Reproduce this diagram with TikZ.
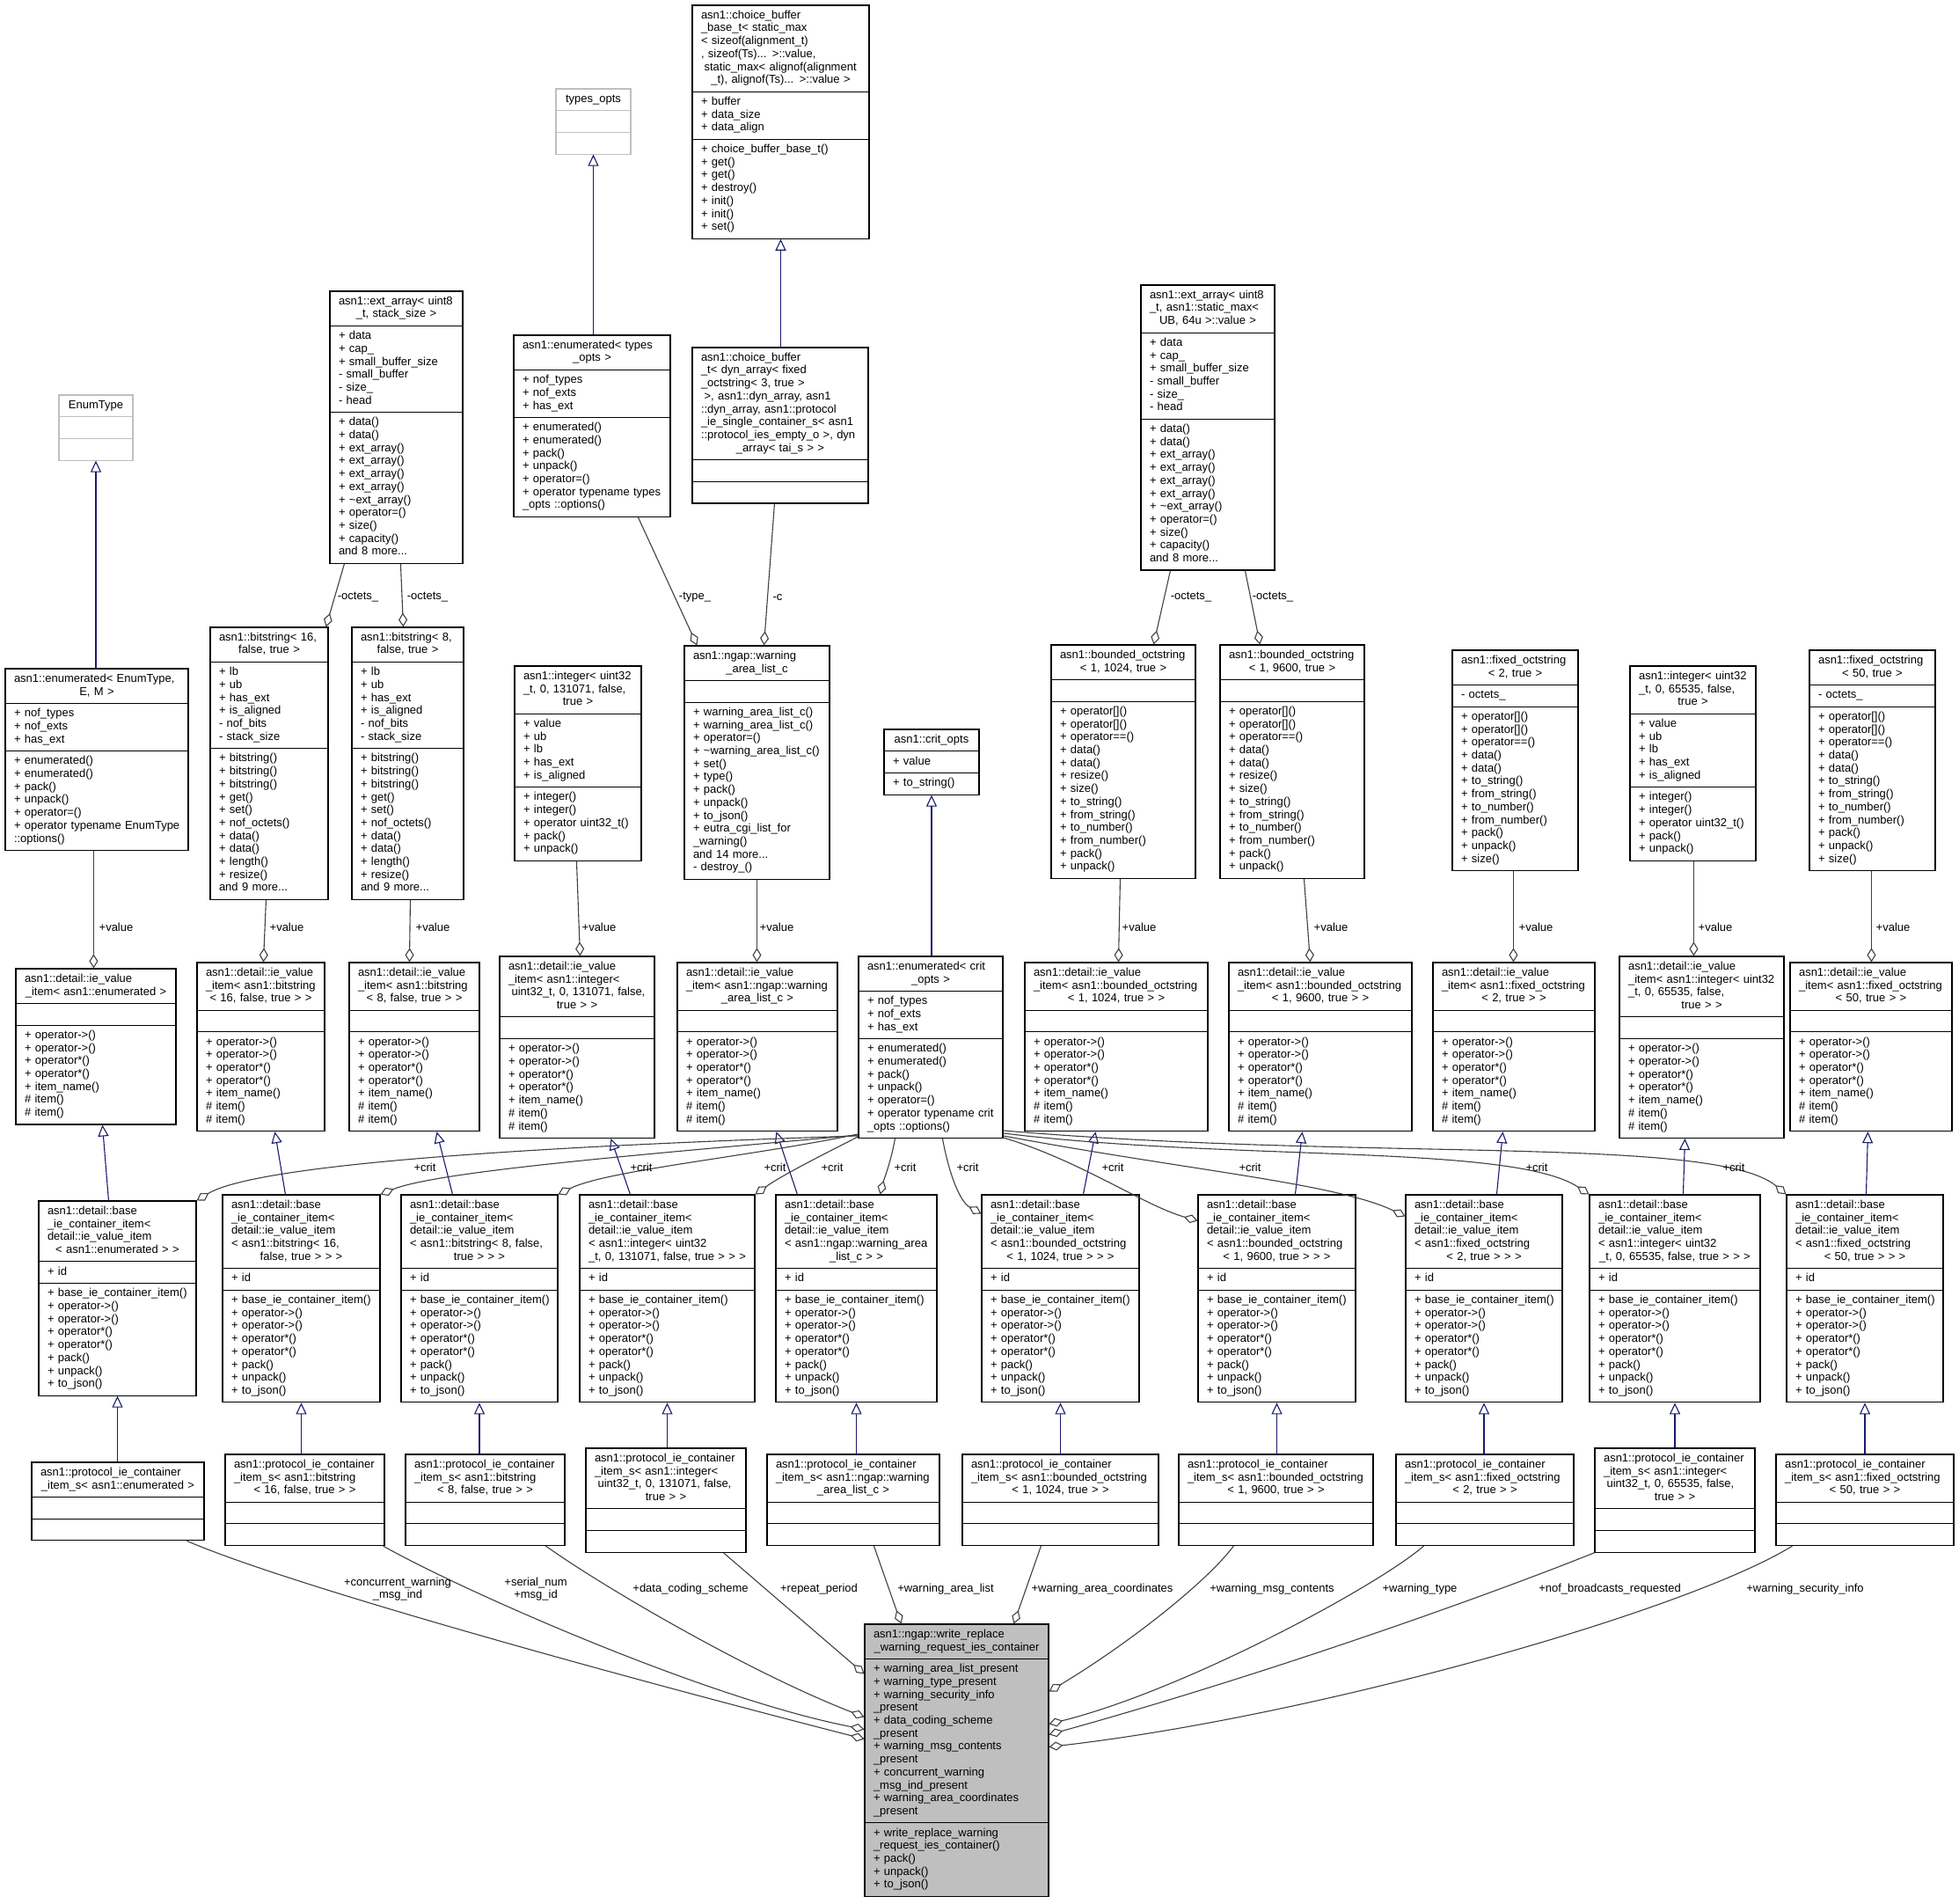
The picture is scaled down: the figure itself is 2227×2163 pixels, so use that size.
\documentclass[tikz,border=0pt]{standalone}
\usepackage{fontspec}
\setmainfont{Liberation Sans}
\usetikzlibrary{arrows.meta,fit,backgrounds}
\definecolor{navy}{HTML}{191970}
\definecolor{edgec}{HTML}{404040}
\definecolor{gbox}{HTML}{BFBFBF}
\newcommand\boxfont{\fontsize{13}{14.7}\selectfont}
\newcommand\dxl[1]{\hspace*{40pt}#1\hfill\null\\}
\newcommand\ldsp{\hspace*{3.6pt}}
% shared member lists
\newcommand\aEN{+ nof\_types\\+ nof\_exts\\+ has\_ext}
\newcommand\mEN[1]{+ enumerated()\\+ enumerated()\\+ pack()\\+ unpack()\\+ operator=()\\#1}
\newcommand\aEA{+ data\\+ cap\_\\+ small\_buffer\_size\\- small\_buffer\\- size\_\\- head}
\newcommand\mEA{+ data()\\+ data()\\+ ext\_array()\\+ ext\_array()\\+ ext\_array()\\+ ext\_array()\\+ \textasciitilde ext\_array()\\+ operator=()\\+ size()\\+ capacity()\\and 8 more...}
\newcommand\aBS{+ lb\\+ ub\\+ has\_ext\\+ is\_aligned\\- nof\_bits\\- stack\_size}
\newcommand\mBS{+ bitstring()\\+ bitstring()\\+ bitstring()\\+ get()\\+ set()\\+ nof\_octets()\\+ data()\\+ data()\\+ length()\\+ resize()\\and 9 more...}
\newcommand\aIN{+ value\\+ ub\\+ lb\\+ has\_ext\\+ is\_aligned}
\newcommand\mIN{+ integer()\\+ integer()\\+ operator uint32\_t()\\+ pack()\\+ unpack()}
\newcommand\mBO{+ operator[]()\\+ operator[]()\\+ operator==()\\+ data()\\+ data()\\+ resize()\\+ size()\\+ to\_string()\\+ from\_string()\\+ to\_number()\\+ from\_number()\\+ pack()\\+ unpack()}
\newcommand\mFO{+ operator[]()\\+ operator[]()\\+ operator==()\\+ data()\\+ data()\\+ to\_string()\\+ from\_string()\\+ to\_number()\\+ from\_number()\\+ pack()\\+ unpack()\\+ size()}
\newcommand\mIV{+ operator->()\\+ operator->()\\+ operator*()\\+ operator*()\\+ item\_name()\\\# item()\\\# item()}
\newcommand\mBC{+ base\_ie\_container\_item()\\+ operator->()\\+ operator->()\\+ operator*()\\+ operator*()\\+ pack()\\+ unpack()\\+ to\_json()}
\newcommand\bH{\dxl{asn1::detail::base}\dxl{\_ie\_container\_item<}\dxl{detail::ie\_value\_item}}
\newcommand\vH{\dxl{asn1::detail::ie\_value}}
\newcommand\pcH{\dxl{asn1::protocol\_ie\_container}}
\tikzset{
  sectbox/.style={inner xsep=0pt, inner ysep=5pt, outer sep=0pt, font=\boxfont,
    execute at begin node=\strut, execute at end node=\strut},
  hdsec/.style={sectbox, align=center, execute at begin node={\leftskip=-30pt plus 1fil\rightskip=-30pt plus 1fil\relax}},
  bdsec/.style={sectbox, align=left, execute at begin node={\leftskip=10pt\rightskip=-50pt plus 1fil\relax}},
  inhedge/.style={draw=navy, line width=1.1pt, {Triangle[open,length=13pt,width=12pt]}-},
  compedge/.style={draw=edgec, line width=1.1pt, -{Diamond[open,length=16pt,width=10pt]}},
  edgelbl/.style={font=\boxfont, inner sep=0pt, align=center, text=black},
}
% #1 border style, #2 name, #3 left x, #4 top y, #5 width, #6 header, #7 attributes, #8 methods
\newcommand\umlc[8][draw=black]{%
  \node[hdsec, text width=#5pt, anchor=north west] (#2-h) at (#3,#4) {#6};
  \node[bdsec, text width=#5pt, anchor=north] (#2-a) at (#2-h.south) {#7};
  \node[bdsec, text width=#5pt, anchor=north] (#2-m) at (#2-a.south) {#8};
  \node[fit=(#2-h)(#2-m), inner sep=0pt, #1, line width=1.1pt] (#2) {};
  \draw[#1, line width=1.1pt] (#2-a.north west) -- (#2-a.north east) (#2-m.north west) -- (#2-m.north east);
}
\begin{document}
\begin{tikzpicture}[x=1pt,y=-1pt]
\useasboundingbox (0,0) rectangle (2227,2163);
\begin{scope}[on background layer]\fill[white] (0,0) rectangle (2227,2163);\end{scope}

% ---------- top rows ----------
\umlc{cbb}{787}{6}{201}{\dxl{asn1::choice\_buffer}\dxl{\_base\_t< static\_max}\dxl{< sizeof(alignment\_t)}\dxl{, sizeof(Ts)... >::value,}\dxl{\ldsp static\_max< alignof(alignment}\_t), alignof(Ts)... >::value >}{+ buffer\\+ data\_size\\+ data\_align}{+ choice\_buffer\_base\_t()\\+ get()\\+ get()\\+ destroy()\\+ init()\\+ init()\\+ set()}
\umlc[draw=gbox]{topts}{632}{101}{85}{types\_opts}{}{}
\umlc{cbt}{787}{395}{200}{\dxl{asn1::choice\_buffer}\dxl{\_t< dyn\_array< fixed}\dxl{\_octstring< 3, true >}\dxl{\ldsp >, asn1::dyn\_array, asn1}\dxl{::dyn\_array, asn1::protocol}\dxl{\_ie\_single\_container\_s< asn1}\dxl{::protocol\_ies\_empty\_o >, dyn}\_array< tai\_s > >}{}{}
\umlc{ets}{584}{381}{178}{\dxl{asn1::enumerated< types}\_opts >}{\aEN}{\mEN{+ operator typename types\\\_opts ::options()}}
\umlc{eas}{375}{331}{151}{\dxl{asn1::ext\_array< uint8}\_t, stack\_size >}{\aEA}{\mEA}
\umlc{eam}{1297}{324}{152}{\dxl{asn1::ext\_array< uint8}\dxl{\_t, asn1::static\_max<}UB, 64u >::value >}{\aEA}{\mEA}
\umlc[draw=gbox]{enumt}{67}{449}{84}{EnumType}{}{}
\umlc{eet}{6}{760}{208}{\dxl{asn1::enumerated< EnumType,}E, M >}{\aEN}{\mEN{+ operator typename EnumType\\::options()}}
\umlc{bs16}{239}{713}{134}{\dxl{asn1::bitstring< 16,}false, true >}{\aBS}{\mBS}
\umlc{bs8}{400}{713}{127}{\dxl{asn1::bitstring< 8,}false, true >}{\aBS}{\mBS}
\umlc{ia}{585}{757}{144}{\dxl{asn1::integer< uint32}\dxl{\_t, 0, 131071, false,}true >}{\aIN}{\mIN}
\umlc{wal}{778}{734}{165}{\dxl{asn1::ngap::warning}\_area\_list\_c}{}{+ warning\_area\_list\_c()\\+ warning\_area\_list\_c()\\+ operator=()\\+ \textasciitilde warning\_area\_list\_c()\\+ set()\\+ type()\\+ pack()\\+ unpack()\\+ to\_json()\\+ eutra\_cgi\_list\_for\\\_warning()\\and 14 more...\\- destroy\_()}
\umlc{copts}{1005}{829}{108}{asn1::crit\_opts}{+ value}{+ to\_string()}
\umlc{bo1}{1195}{733}{164}{\dxl{asn1::bounded\_octstring}< 1, 1024, true >}{}{\mBO}
\umlc{bo2}{1387}{733}{164}{\dxl{asn1::bounded\_octstring}< 1, 9600, true >}{}{\mBO}
\umlc{fa}{1651}{739}{143}{\dxl{asn1::fixed\_octstring}< 2, true >}{- octets\_}{\mFO}
\umlc{ib}{1853}{757}{143}{\dxl{asn1::integer< uint32}\dxl{\_t, 0, 65535, false,}true >}{\aIN}{\mIN}
\umlc{fb}{2057}{739}{143}{\dxl{asn1::fixed\_octstring}< 50, true >}{- octets\_}{\mFO}

% ---------- ie_value_item row ----------
\umlc{vA}{18}{1101}{182}{\vH\_item< asn1::enumerated >}{}{\mIV}
\umlc{vB}{224}{1094}{145}{\vH\dxl{\_item< asn1::bitstring}< 16, false, true > >}{}{\mIV}
\umlc{vC}{397}{1094}{148}{\vH\dxl{\_item< asn1::bitstring}< 8, false, true > >}{}{\mIV}
\umlc{vD}{568}{1087}{176}{\vH\dxl{\_item< asn1::integer<}\dxl{\ldsp uint32\_t, 0, 131071, false,}true > >}{}{\mIV}
\umlc{vE}{770}{1094}{182}{\vH\dxl{\_item< asn1::ngap::warning}\_area\_list\_c >}{}{\mIV}
\umlc{ecrit}{976}{1087}{164}{\dxl{asn1::enumerated< crit}\_opts >}{\aEN}{\mEN{+ operator typename crit\\\_opts ::options()}}
\umlc{vF}{1165}{1094}{208}{\vH\dxl{\_item< asn1::bounded\_octstring}< 1, 1024, true > >}{}{\mIV}
\umlc{vG}{1397}{1094}{208}{\vH\dxl{\_item< asn1::bounded\_octstring}< 1, 9600, true > >}{}{\mIV}
\umlc{vH}{1629}{1094}{184}{\vH\dxl{\_item< asn1::fixed\_octstring}< 2, true > >}{}{\mIV}
\umlc{vI}{1841}{1087}{187}{\vH\dxl{\_item< asn1::integer< uint32}\dxl{\_t, 0, 65535, false,}true > >}{}{\mIV}
\umlc{vJ}{2035}{1094}{184}{\vH\dxl{\_item< asn1::fixed\_octstring}< 50, true > >}{}{\mIV}

% ---------- base_ie_container_item row ----------
\umlc{cA}{44}{1365}{179}{\bH< asn1::enumerated > >}{+ id}{\mBC}
\umlc{cB}{253}{1358}{179}{\bH\dxl{< asn1::bitstring< 16,}false, true > > >}{+ id}{\mBC}
\umlc{cC}{456}{1358}{178}{\bH\dxl{< asn1::bitstring< 8, false,}true > > >}{+ id}{\mBC}
\umlc{cD}{659}{1358}{199}{\bH\dxl{< asn1::integer< uint32}\_t, 0, 131071, false, true > > >}{+ id}{\mBC}
\umlc{cE}{882}{1358}{183}{\bH\dxl{< asn1::ngap::warning\_area}\_list\_c > >}{+ id}{\mBC}
\umlc{cF}{1116}{1358}{179}{\bH\dxl{< asn1::bounded\_octstring}< 1, 1024, true > > >}{+ id}{\mBC}
\umlc{cG}{1362}{1358}{179}{\bH\dxl{< asn1::bounded\_octstring}< 1, 9600, true > > >}{+ id}{\mBC}
\umlc{cH}{1598}{1358}{178}{\bH\dxl{< asn1::fixed\_octstring}< 2, true > > >}{+ id}{\mBC}
\umlc{cI}{1807}{1358}{194}{\bH\dxl{< asn1::integer< uint32}\_t, 0, 65535, false, true > > >}{+ id}{\mBC}
\umlc{cJ}{2031}{1358}{178}{\bH\dxl{< asn1::fixed\_octstring}< 50, true > > >}{+ id}{\mBC}

% ---------- protocol_ie_container_item_s row ----------
\umlc{pA}{36}{1662}{196}{\pcH\_item\_s< asn1::enumerated >}{}{}
\umlc{pB}{256}{1653}{181}{\pcH\dxl{\_item\_s< asn1::bitstring}< 16, false, true > >}{}{}
\umlc{pC}{461}{1653}{181}{\pcH\dxl{\_item\_s< asn1::bitstring}< 8, false, true > >}{}{}
\umlc{pD}{666}{1646}{182}{\pcH\dxl{\_item\_s< asn1::integer<}\dxl{\ldsp uint32\_t, 0, 131071, false,}true > >}{}{}
\umlc{pE}{872}{1653}{196}{\pcH\dxl{\_item\_s< asn1::ngap::warning}\_area\_list\_c >}{}{}
\umlc{pF}{1094}{1653}{223}{\pcH\dxl{\_item\_s< asn1::bounded\_octstring}< 1, 1024, true > >}{}{}
\umlc{pG}{1340}{1653}{221}{\pcH\dxl{\_item\_s< asn1::bounded\_octstring}< 1, 9600, true > >}{}{}
\umlc{pH}{1587}{1653}{202}{\pcH\dxl{\_item\_s< asn1::fixed\_octstring}< 2, true > >}{}{}
\umlc{pI}{1813}{1646}{182}{\pcH\dxl{\_item\_s< asn1::integer<}\dxl{\ldsp uint32\_t, 0, 65535, false,}true > >}{}{}
\umlc{pJ}{2019}{1653}{202}{\pcH\dxl{\_item\_s< asn1::fixed\_octstring}< 50, true > >}{}{}

% ---------- main class ----------
\umlc{main}{983}{1846}{209}{\dxl{asn1::ngap::write\_replace}\_warning\_request\_ies\_container}{+ warning\_area\_list\_present\\+ warning\_type\_present\\+ warning\_security\_info\\\_present\\+ data\_coding\_scheme\\\_present\\+ warning\_msg\_contents\\\_present\\+ concurrent\_warning\\\_msg\_ind\_present\\+ warning\_area\_coordinates\\\_present}{+ write\_replace\_warning\\\_request\_ies\_container()\\+ pack()\\+ unpack()\\+ to\_json()}
\begin{scope}[on background layer]\fill[gbox] (main.south west) rectangle (main.north east);\end{scope}

% ---------- inheritance ----------
\draw[inhedge] (topts.south) -- (topts.south |- ets.north);
\draw[inhedge] (cbb.south) -- (cbb.south |- cbt.north);
\draw[inhedge] (enumt.south) -- (enumt.south |- eet.north);
\draw[inhedge] (copts.south) -- (copts.south |- ecrit.north);
\draw[inhedge] ([xshift=99pt]vA.south west) -- ([xshift=80pt]cA.north west);
\draw[inhedge] ([xshift=89pt]vB.south west) -- ([xshift=72pt]cB.north west);
\draw[inhedge] ([xshift=100pt]vC.south west) -- ([xshift=59pt]cC.north west);
\draw[inhedge] ([xshift=127pt]vD.south west) -- ([xshift=58pt]cD.north west);
\draw[inhedge] ([xshift=113pt]vE.south west) -- ([xshift=25pt]cE.north west);
\draw[inhedge] ([xshift=81pt]vF.south west) -- ([xshift=116pt]cF.north west);
\draw[inhedge] ([xshift=84pt]vG.south west) -- ([xshift=111pt]cG.north west);
\draw[inhedge] ([xshift=80pt]vH.south west) -- ([xshift=104pt]cH.north west);
\draw[inhedge] ([xshift=75pt]vI.south west) -- ([xshift=107pt]cI.north west);
\draw[inhedge] ([xshift=89pt]vJ.south west) -- ([xshift=91pt]cJ.north west);
\draw[inhedge] (cA.south) -- (cA.south |- pA.north);
\draw[inhedge] (cB.south) -- (cB.south |- pB.north);
\draw[inhedge] (cC.south) -- (cC.south |- pC.north);
\draw[inhedge] (cD.south) -- (cD.south |- pD.north);
\draw[inhedge] (cE.south) -- (cE.south |- pE.north);
\draw[inhedge] (cF.south) -- (cF.south |- pF.north);
\draw[inhedge] (cG.south) -- (cG.south |- pG.north);
\draw[inhedge] (cH.south) -- (cH.south |- pH.north);
\draw[inhedge] (cI.south) -- (cI.south |- pI.north);
\draw[inhedge] (cJ.south) -- (cJ.south |- pJ.north);

% ---------- composition: upper ----------
\draw[compedge] ([xshift=17pt]eas.south west) -- ([xshift=-3pt]bs16.north east);
\draw[compedge] ([xshift=81pt]eas.south west) -- ([xshift=59pt]bs8.north west);
\draw[compedge] ([xshift=142pt]ets.south west) -- ([xshift=15pt]wal.north west);
\draw[compedge] ([xshift=94pt]cbt.south west) -- ([xshift=91pt]wal.north west);
\draw[compedge] ([xshift=34pt]eam.south west) -- ([xshift=117pt]bo1.north west);
\draw[compedge] ([xshift=119pt]eam.south west) -- ([xshift=46pt]bo2.north west);
\node[edgelbl] (l1) at (407,679) {-octets\_};
\node[edgelbl] (l2) at (486,679) {-octets\_};
\node[edgelbl] (l3) at (790,679) {-type\_};
\node[edgelbl] (l4) at (884,679) {-c};
\node[edgelbl] (l5) at (1354,679) {-octets\_};
\node[edgelbl] (l6) at (1447,679) {-octets\_};

% ---------- composition: value ----------
\draw[compedge] ([xshift=101pt]eet.south west) -- ([xshift=89pt]vA.north west);
\draw[compedge] ([xshift=64pt]bs16.south west) -- ([xshift=76pt]vB.north west);
\draw[compedge] ([xshift=67pt]bs8.south west) -- ([xshift=69pt]vC.north west);
\draw[compedge] ([xshift=71pt]ia.south west) -- ([xshift=92pt]vD.north west);
\draw[compedge] ([xshift=83pt]wal.south west) -- ([xshift=91pt]vE.north west);
\draw[compedge] ([xshift=79pt]bo1.south west) -- ([xshift=107pt]vF.north west);
\draw[compedge] ([xshift=96pt]bo2.south west) -- ([xshift=93pt]vG.north west);
\draw[compedge] ([xshift=70pt]fa.south west) -- ([xshift=92pt]vH.north west);
\draw[compedge] ([xshift=73pt]ib.south west) -- ([xshift=85pt]vI.north west);
\draw[compedge] ([xshift=71pt]fb.south west) -- ([xshift=93pt]vJ.north west);
\node[edgelbl] (v1) at (132,1054) {+value};
\node[edgelbl] (v2) at (326,1054) {+value};
\node[edgelbl] (v3) at (492,1054) {+value};
\node[edgelbl] (v4) at (681,1054) {+value};
\node[edgelbl] (v5) at (883,1054) {+value};
\node[edgelbl] (v6) at (1295,1054) {+value};
\node[edgelbl] (v7) at (1513,1054) {+value};
\node[edgelbl] (v8) at (1746,1054) {+value};
\node[edgelbl] (v9) at (1950,1054) {+value};
\node[edgelbl] (v10) at (2152,1054) {+value};

% ---------- composition: crit ----------
\draw[compedge] ([yshift=3pt]ecrit.south west) .. controls (700,1300) and (300,1318) .. (cA.north east);
\draw[compedge] ([yshift=4pt]ecrit.south west) .. controls (760,1310) and (500,1330) .. (cB.north east);
\draw[compedge] ([yshift=5pt]ecrit.south west) .. controls (850,1315) and (690,1330) .. (cC.north east);
\draw[compedge] ([yshift=2pt]ecrit.south west) .. controls (940,1310) and (890,1335) .. (cD.north east);
\draw[compedge] ([xshift=42pt]ecrit.south west) .. controls (1013,1320) and (1005,1340) .. ([xshift=119pt]cE.north west);
\draw[compedge] ([xshift=96pt]ecrit.south west) .. controls (1078,1330) and (1090,1365) .. ([yshift=-22pt]cF.north west);
\draw[compedge] ([yshift=1pt]ecrit.south east) .. controls (1230,1320) and (1300,1370) .. ([yshift=-30pt]cG.north west);
\draw[compedge] ([yshift=3pt]ecrit.south east) .. controls (1350,1330) and (1520,1345) .. ([yshift=-25pt]cH.north west);
\draw[compedge] ([yshift=6pt]ecrit.south east) .. controls (1400,1320) and (1720,1300) .. (cI.north west);
\draw[compedge] ([yshift=9pt]ecrit.south east) .. controls (1550,1320) and (1950,1290) .. (cJ.north west);
\node[edgelbl] (k1) at (483,1327) {+crit};
\node[edgelbl] (k2) at (729,1327) {+crit};
\node[edgelbl] (k3) at (881,1327) {+crit};
\node[edgelbl] (k4) at (946,1327) {+crit};
\node[edgelbl] (k5) at (1029,1327) {+crit};
\node[edgelbl] (k6) at (1100,1327) {+crit};
\node[edgelbl] (k7) at (1265,1327) {+crit};
\node[edgelbl] (k8) at (1421,1327) {+crit};
\node[edgelbl] (k9) at (1747,1327) {+crit};
\node[edgelbl] (k10) at (1971,1327) {+crit};

% ---------- composition: main members ----------
\draw[compedge] ([xshift=177pt]pA.south west) .. controls (330,1802) and (700,1904) .. ([yshift=-131pt]main.north west);
\draw[compedge] ([xshift=-2pt]pB.south east) .. controls (520,1805) and (800,1930) .. ([yshift=-120pt]main.north west);
\draw[compedge] ([xshift=160pt]pC.south west) .. controls (680,1800) and (850,1900) .. ([yshift=-106pt]main.north west);
\draw[compedge] ([xshift=157pt]pD.south west) -- ([yshift=-57pt]main.north west);
\draw[compedge] ([xshift=122pt]pE.south west) -- ([xshift=42pt]main.north west);
\draw[compedge] ([xshift=90pt]pF.south west) -- ([xshift=170pt]main.north west);
\draw[compedge] ([xshift=63pt]pG.south west) .. controls (1370,1800) and (1280,1870) .. ([yshift=-77pt]main.north east);
\draw[compedge] ([xshift=32pt]pH.south west) .. controls (1570,1800) and (1350,1920) .. ([yshift=-114pt]main.north east);
\draw[compedge] (pI.south west) .. controls (1700,1810) and (1450,1900) .. ([yshift=-126pt]main.north east);
\draw[compedge] ([xshift=19pt]pJ.south west) .. controls (1920,1830) and (1500,1950) .. ([yshift=-140pt]main.north east);
\node[edgelbl] (m1) at (452,1806) {+concurrent\_warning\\\_msg\_ind};
\node[edgelbl] (m2) at (609,1806) {+serial\_num\\+msg\_id};
\node[edgelbl] (m3) at (785,1806) {+data\_coding\_scheme};
\node[edgelbl] (m4) at (931,1806) {+repeat\_period};
\node[edgelbl] (m5) at (1075,1806) {+warning\_area\_list};
\node[edgelbl] (m6) at (1253,1806) {+warning\_area\_coordinates};
\node[edgelbl] (m7) at (1446,1806) {+warning\_msg\_contents};
\node[edgelbl] (m8) at (1614,1806) {+warning\_type};
\node[edgelbl] (m9) at (1830,1806) {+nof\_broadcasts\_requested};
\node[edgelbl] (m10) at (2052,1806) {+warning\_security\_info};
\end{tikzpicture}
\end{document}
